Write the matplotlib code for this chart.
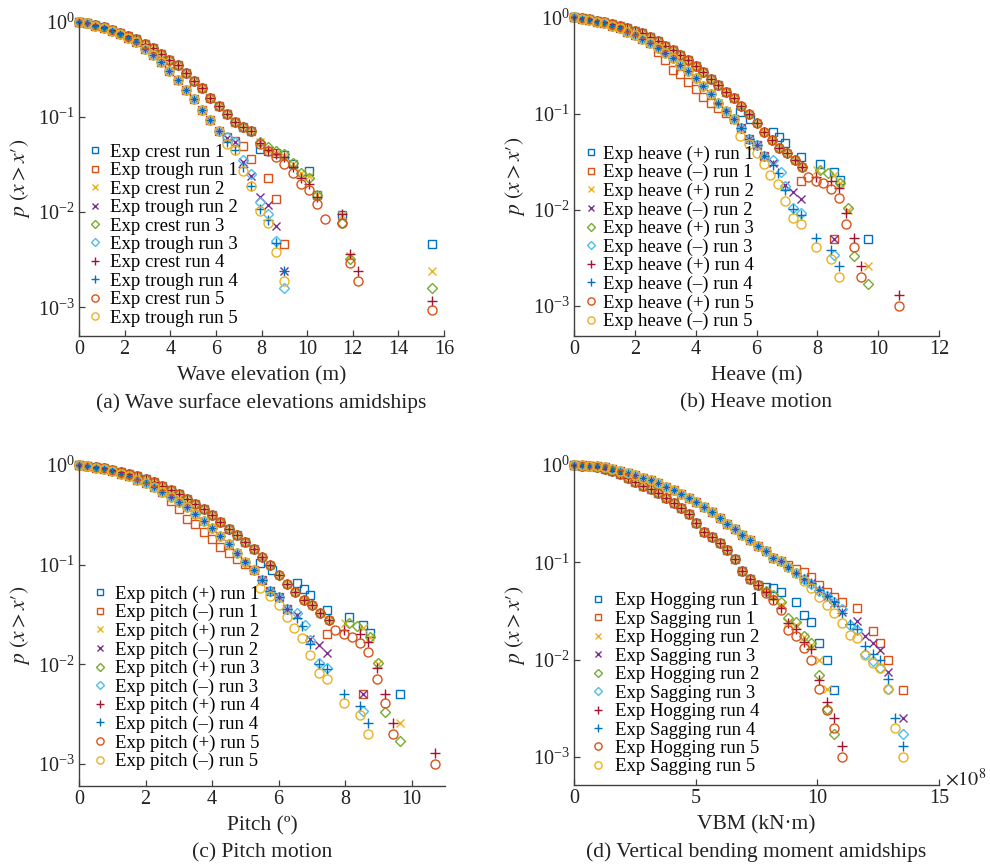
import matplotlib
matplotlib.use('Agg')
import matplotlib.pyplot as plt
from matplotlib.ticker import NullLocator, FixedLocator

plt.rcParams['font.family'] = ['Liberation Serif', 'DejaVu Serif']
plt.rcParams['mathtext.fontset'] = 'stix'

# MATLAB-like colour order and markers of the ten runs
COLORS = ['#0072BD', '#D95319', '#EDB120', '#7E2F8E', '#77AC30',
          '#4DBEEE', '#A2142F', '#0072BD', '#D95319', '#EDB120']
MARKERS = ['s', 's', 'x', 'x', 'D', 'D', '+', '+', 'o', 'o']
MSIZE = {'s': 5.5, 'x': 5.5, 'D': 4.8, '+': 7.5, 'o': 6.5}

# ---------------- (a) wave elevation ----------------
wave_x = [0, 0.36, 0.72, 1.08, 1.44, 1.80, 2.16, 2.52, 2.88, 3.24, 3.60,
          3.96, 4.32, 4.68, 5.04, 5.40, 5.76, 6.12, 6.48, 6.84, 7.20, 7.56]
wave_crest_p = [1, 0.96, 0.92, 0.87, 0.82, 0.77, 0.71, 0.66, 0.59, 0.53, 0.46,
                0.40, 0.35, 0.29, 0.24, 0.20, 0.16, 0.13, 0.107, 0.088, 0.078, 0.071]
wave_trough_p = [1, 0.96, 0.91, 0.85, 0.80, 0.75, 0.67, 0.61, 0.52, 0.45, 0.38,
                 0.305, 0.243, 0.194, 0.153, 0.119, 0.094, 0.071]

crest_tail_x1 = [7.92, 8.28, 8.64, 9.00, 9.36, 10.08, 10.44, 11.52, 15.48]
crest_tail_p1 = [0.046, 0.044, 0.042, 0.040, 0.032, 0.027, 0.015, 0.0094, 0.0046]
crest_tail_x2 = [7.92, 8.28, 8.64, 9.00, 9.36, 9.72, 10.08, 10.44, 11.52, 11.88, 15.48]
crest_tail_p2 = [0.054, 0.045, 0.042, 0.039, 0.032, 0.026, 0.024, 0.015, 0.0094, 0.0035, 0.0024]
crest_tail_x3 = [7.92, 8.28, 8.64, 9.00, 9.36, 9.72, 10.08, 10.44, 11.52, 11.88, 15.48]
crest_tail_p3 = [0.054, 0.048, 0.044, 0.041, 0.033, 0.026, 0.023, 0.015, 0.0077, 0.0032, 0.0016]
crest_tail_x4 = [7.92, 8.28, 8.64, 9.00, 9.36, 9.72, 10.08, 10.44, 11.52, 11.88, 12.24, 15.48]
crest_tail_p4 = [0.053, 0.045, 0.041, 0.038, 0.030, 0.023, 0.020, 0.0144, 0.0096, 0.0036, 0.0024, 0.00118]
crest_tail_x5 = [7.92, 8.28, 8.64, 9.00, 9.36, 9.72, 10.08, 10.44, 10.80, 11.52, 11.88, 12.24, 15.48]
crest_tail_p5 = [0.052, 0.044, 0.038, 0.032, 0.026, 0.020, 0.017, 0.0122, 0.0085, 0.0077, 0.0029, 0.0019, 0.00094]

trough_tail_x1 = [6.48, 6.84, 7.20, 7.56, 8.28, 8.64, 9.00]
trough_tail_p1 = [0.062, 0.056, 0.050, 0.036, 0.023, 0.0137, 0.0046]
trough_tail_x = [6.48, 6.84, 7.20, 7.56, 7.92, 8.28, 8.64, 9.00]
trough_tail_p2 = [0.060, 0.054, 0.034, 0.024, 0.0144, 0.0119, 0.0071, 0.0024]
trough_tail_p3 = [0.062, 0.054, 0.035, 0.025, 0.0127, 0.0096, 0.0050, 0.0016]
trough_tail_p4 = [0.055, 0.045, 0.030, 0.019, 0.0107, 0.0082, 0.0048, 0.0024]
trough_tail_p5 = [0.052, 0.045, 0.027, 0.019, 0.0104, 0.0077, 0.0038, 0.0019]

wave_labels = ['Exp crest run 1', 'Exp trough run 1', 'Exp crest run 2', 'Exp trough run 2',
               'Exp crest run 3', 'Exp trough run 3', 'Exp crest run 4', 'Exp trough run 4',
               'Exp crest run 5', 'Exp trough run 5']

# ---------------- (b) heave (pitch readings in (c) coincide) ----------------
heave_x = [0, 0.25, 0.5, 0.75, 1.0, 1.25, 1.5, 1.75, 2.0, 2.25, 2.5, 2.75, 3.0, 3.25,
           3.5, 3.75, 4.0, 4.25, 4.5, 4.75, 5.0, 5.25, 5.5, 5.75, 6.0, 6.25, 6.5,
           6.75, 7.0, 7.25, 7.5]
heave_pos_p = [1.0, 0.977, 0.953, 0.923, 0.887, 0.853, 0.813, 0.769, 0.727, 0.682,
               0.620, 0.563, 0.508, 0.458, 0.406, 0.361, 0.313, 0.269, 0.229, 0.199,
               0.169, 0.144, 0.120, 0.099, 0.079, 0.064, 0.053, 0.044, 0.039, 0.033, 0.028]
heave_neg_p = [1.0, 0.969, 0.938, 0.902, 0.866, 0.819, 0.769, 0.710, 0.656, 0.596,
               0.537, 0.477, 0.423, 0.375, 0.320, 0.277, 0.233, 0.194, 0.160, 0.130,
               0.107, 0.088, 0.070, 0.055, 0.047, 0.036]

pos_tail_x1 = [5.45, 5.8, 6.55, 6.75, 6.95, 7.45, 8.1, 8.55, 8.75, 9.65]
pos_tail_p1 = [0.105, 0.088, 0.065, 0.057, 0.050, 0.035, 0.030, 0.025, 0.0205, 0.0050]
pos_tail_x2 = [8.0, 8.55, 8.75, 9.0, 9.65]
pos_tail_p2 = [0.026, 0.023, 0.019, 0.0100, 0.0026]
pos_tail_x3 = [8.1, 8.35, 8.75, 9.0, 9.2, 9.65]
pos_tail_p3 = [0.026, 0.024, 0.019, 0.0104, 0.0033, 0.0017]
pos_tail_x4 = [7.95, 8.45, 8.7, 8.95, 9.2, 9.45, 10.7]
pos_tail_p4 = [0.022, 0.020, 0.0168, 0.0092, 0.0051, 0.0026, 0.0013]
pos_tail_x5 = [7.7, 7.95, 8.2, 8.45, 8.7, 8.95, 9.2, 9.45, 10.7]
pos_tail_p5 = [0.022, 0.020, 0.019, 0.0164, 0.0132, 0.0072, 0.0041, 0.0020, 0.0010]

neg_tail_x1 = [2.75, 3.0, 3.25, 3.5, 3.75, 4.0, 4.25, 4.5, 4.75, 5.0, 5.25, 5.5,
               5.75, 6.0, 6.25, 7.45, 8.55]
neg_tail_p1 = [0.44, 0.361, 0.284, 0.258, 0.215, 0.179, 0.150, 0.130, 0.114, 0.101,
               0.088, 0.070, 0.055, 0.047, 0.036, 0.020, 0.0050]
neg_tail_x2 = [6.55, 6.95, 7.2, 7.45, 8.55]
neg_tail_p2 = [0.031, 0.018, 0.0155, 0.0129, 0.0050]
neg_tail_x3 = [6.55, 6.8, 6.95, 7.2, 7.45, 8.55]
neg_tail_p3 = [0.033, 0.025, 0.0175, 0.0104, 0.0092, 0.0034]
neg_tail_x4 = [6.55, 6.7, 6.95, 7.2, 7.45, 7.95, 8.45, 8.7]
neg_tail_p4 = [0.029, 0.024, 0.0161, 0.0102, 0.0089, 0.0051, 0.0038, 0.0026]
neg_tail_x5 = [5.45, 5.75, 6.0, 6.25, 6.45, 6.7, 6.95, 7.2, 7.45, 7.95, 8.45, 8.7]
neg_tail_p5 = [0.058, 0.048, 0.039, 0.030, 0.023, 0.0185, 0.0123, 0.0082, 0.0072,
               0.0041, 0.0031, 0.0020]

heave_labels = ['Exp heave (+) run 1', 'Exp heave (–) run 1', 'Exp heave (+) run 2',
                'Exp heave (–) run 2', 'Exp heave (+) run 3', 'Exp heave (–) run 3',
                'Exp heave (+) run 4', 'Exp heave (–) run 4', 'Exp heave (+) run 5',
                'Exp heave (–) run 5']
pitch_labels = [s.replace('heave', 'pitch') for s in heave_labels]

# ---------------- (d) VBM, units of 1e8 kN.m ----------------
vbm_x = [0, 0.31, 0.63, 0.94, 1.26, 1.57, 1.89, 2.20, 2.52, 2.83, 3.15, 3.46, 3.78,
         4.09, 4.40, 4.72, 5.03, 5.35, 5.66, 5.98, 6.29, 6.61, 6.92, 7.24, 7.55, 7.87,
         8.18, 8.50, 8.81, 9.12]
sag_p = [1.0, 0.995, 0.984, 0.969, 0.946, 0.910, 0.875, 0.834, 0.789, 0.741, 0.695,
         0.647, 0.598, 0.549, 0.503, 0.458, 0.413, 0.370, 0.326, 0.287, 0.249, 0.218,
         0.191, 0.168, 0.148, 0.130, 0.111, 0.103, 0.090, 0.077]
hog_p = [1.0, 0.984, 0.969, 0.946, 0.917, 0.867, 0.802, 0.741, 0.674, 0.613, 0.562,
         0.511, 0.454, 0.404, 0.358, 0.311, 0.255, 0.206, 0.180, 0.156, 0.134, 0.107,
         0.082, 0.068, 0.058]

sag_tail_x1 = [8.81, 9.12, 9.44, 9.75, 10.07, 10.38, 10.70, 11.01, 11.64, 12.27, 12.59, 12.90, 13.52]
sag_tail_p1 = [0.094, 0.086, 0.080, 0.071, 0.059, 0.050, 0.044, 0.039, 0.034, 0.0196, 0.0147, 0.0099, 0.0049]
sag_tail_x2 = [9.44, 9.75, 10.07, 10.38, 10.70, 11.01, 11.64, 11.96, 12.27, 12.59, 12.90, 13.52]
sag_tail_p2 = [0.068, 0.061, 0.052, 0.045, 0.038, 0.031, 0.025, 0.0176, 0.0149, 0.0125, 0.0075, 0.0025]
sag_tail_x3 = [9.44, 9.75, 10.07, 10.38, 10.70, 11.01, 11.33, 11.64, 11.96, 12.27, 12.59, 12.90, 13.52]
sag_tail_p3 = [0.068, 0.060, 0.051, 0.045, 0.039, 0.033, 0.0226, 0.020, 0.0113, 0.0096, 0.0082, 0.0050, 0.0017]
sag_tail_x4 = [9.44, 9.75, 10.07, 10.38, 10.70, 11.01, 11.33, 11.64, 11.96, 12.27, 12.59, 12.90, 13.20, 13.52]
sag_tail_p4 = [0.068, 0.061, 0.052, 0.045, 0.039, 0.030, 0.023, 0.0206, 0.0139, 0.0113, 0.0099, 0.0063, 0.0025, 0.0013]
sag_tail_p5 = [0.064, 0.054, 0.044, 0.036, 0.030, 0.024, 0.018, 0.0165, 0.0111, 0.0093, 0.0081, 0.0050, 0.0020, 0.0010]

hog_tail_x1 = [7.87, 8.18, 8.50, 9.12, 9.44, 9.75, 10.07, 10.38, 10.70]
hog_tail_p1 = [0.056, 0.054, 0.050, 0.039, 0.029, 0.0245, 0.0147, 0.0098, 0.0049]
hog_tail_x = [7.87, 8.18, 8.50, 8.81, 9.12, 9.44, 9.75, 10.07, 10.38, 10.70, 11.01]
hog_tail_p2 = [0.049, 0.044, 0.036, 0.0245, 0.0226, 0.0171, 0.0141, 0.0100, 0.0050]
hog_tail_p3 = [0.051, 0.046, 0.039, 0.027, 0.0245, 0.0174, 0.0149, 0.0069, 0.0031, 0.0017]
hog_tail_p4 = [0.050, 0.0415, 0.034, 0.024, 0.0206, 0.0152, 0.0128, 0.0062, 0.0037, 0.0025, 0.0013]
hog_tail_p5 = [0.048, 0.041, 0.032, 0.020, 0.0176, 0.0130, 0.0100, 0.0050, 0.0030, 0.0020, 0.0010]

vbm_labels = ['Exp Hogging run 1', 'Exp Sagging run 1', 'Exp Hogging run 2', 'Exp Sagging run 3',
              'Exp Hogging run 2', 'Exp Sagging run 3', 'Exp Hogging run 4', 'Exp Sagging run 4',
              'Exp Hogging run 5', 'Exp Sagging run 5']


def join(hx, hp, n, tx, tp):
    return list(hx[:n]) + list(tx), list(hp[:n]) + list(tp[:len(tx)])


wave_series = [
    join(wave_x, wave_crest_p, 22, crest_tail_x1, crest_tail_p1),
    join(wave_x, wave_trough_p, 18, trough_tail_x1, trough_tail_p1),
    join(wave_x, wave_crest_p, 22, crest_tail_x2, crest_tail_p2),
    join(wave_x, wave_trough_p, 18, trough_tail_x, trough_tail_p2),
    join(wave_x, wave_crest_p, 22, crest_tail_x3, crest_tail_p3),
    join(wave_x, wave_trough_p, 18, trough_tail_x, trough_tail_p3),
    join(wave_x, wave_crest_p, 22, crest_tail_x4, crest_tail_p4),
    join(wave_x, wave_trough_p, 18, trough_tail_x, trough_tail_p4),
    join(wave_x, wave_crest_p, 22, crest_tail_x5, crest_tail_p5),
    join(wave_x, wave_trough_p, 18, trough_tail_x, trough_tail_p5),
]
heave_series = [
    join(heave_x, heave_pos_p, 22, pos_tail_x1, pos_tail_p1),
    join(heave_x, heave_neg_p, 11, neg_tail_x1, neg_tail_p1),
    join(heave_x, heave_pos_p, 31, pos_tail_x2, pos_tail_p2),
    join(heave_x, heave_neg_p, 26, neg_tail_x2, neg_tail_p2),
    join(heave_x, heave_pos_p, 31, pos_tail_x3, pos_tail_p3),
    join(heave_x, heave_neg_p, 26, neg_tail_x3, neg_tail_p3),
    join(heave_x, heave_pos_p, 31, pos_tail_x4, pos_tail_p4),
    join(heave_x, heave_neg_p, 26, neg_tail_x4, neg_tail_p4),
    join(heave_x, heave_pos_p, 31, pos_tail_x5, pos_tail_p5),
    join(heave_x, heave_neg_p, 22, neg_tail_x5, neg_tail_p5),
]
vbm_series = [
    join(vbm_x, hog_p, 25, hog_tail_x1, hog_tail_p1),
    join(vbm_x, sag_p, 28, sag_tail_x1, sag_tail_p1),
    join(vbm_x, hog_p, 25, hog_tail_x[:len(hog_tail_p2)], hog_tail_p2),
    join(vbm_x, sag_p, 30, sag_tail_x2, sag_tail_p2),
    join(vbm_x, hog_p, 25, hog_tail_x[:len(hog_tail_p3)], hog_tail_p3),
    join(vbm_x, sag_p, 30, sag_tail_x3, sag_tail_p3),
    join(vbm_x, hog_p, 25, hog_tail_x, hog_tail_p4),
    join(vbm_x, sag_p, 30, sag_tail_x4, sag_tail_p4),
    join(vbm_x, hog_p, 25, hog_tail_x, hog_tail_p5),
    join(vbm_x, sag_p, 30, sag_tail_x4, sag_tail_p5),
]

W, H = 990, 865
fig = plt.figure(figsize=(W / 100, H / 100), dpi=100)


def make_axes(left, right, top, bottom):
    return fig.add_axes([left / W, 1 - bottom / H, (right - left) / W, (bottom - top) / H])


panels = [
    # series, labels, box(px), xlim, xticks, ylim bottom exponent, xlabel, caption, legend anchor, textpad
    (wave_series, wave_labels, (79, 444, 21.7, 336), (0, 16), list(range(0, 17, 2)), -3.3,
     'Wave elevation (m)', '(a) Wave surface elevations amidships', (0.022, 0.612), 0.42),
    (heave_series, heave_labels, (574, 939, 17.3, 336), (0, 12), list(range(0, 13, 2)), -3.31,
     'Heave (m)', '(b) Heave motion', (0.027, 0.598), 0.2),
    (heave_series, pitch_labels, (79, 445, 465, 786), (0, 11), list(range(0, 11, 2)), -3.22,
     'Pitch (º)', '(c) Pitch motion', (0.036, 0.625), 0.42),
    (vbm_series, vbm_labels, (574, 939, 465, 785), (0, 15), [0, 5, 10, 15], -3.29,
     'VBM (kN·m)', '(d) Vertical bending moment amidships', (0.045, 0.602), 0.5),
]

for series, labels, box, xlim, xticks, ybot, xlabel, caption, anchor, tpad in panels:
    ax = make_axes(*box)
    for i, (x, p) in enumerate(series):
        m = MARKERS[i]
        ax.plot(x, p, linestyle='none', marker=m, markersize=MSIZE[m],
                markerfacecolor='none', markeredgecolor=COLORS[i], markeredgewidth=1.0,
                label=labels[i], clip_on=False)
    ax.set_yscale('log')
    ax.set_xlim(*xlim)
    ax.set_ylim(10 ** ybot, 1.0)
    ax.xaxis.set_major_locator(FixedLocator(xticks))
    ax.yaxis.set_major_locator(FixedLocator([1e-3, 1e-2, 1e-1, 1]))
    ax.yaxis.set_minor_locator(NullLocator())
    for s in ['top', 'right']:
        ax.spines[s].set_visible(False)
    for s in ['left', 'bottom']:
        ax.spines[s].set_color('#404040')
        ax.spines[s].set_linewidth(1.0)
    ax.tick_params(direction='in', length=4, width=0.9, colors='#404040',
                   labelcolor='#222222', labelsize=14.5, pad=3)
    ax.set_xlabel(xlabel, fontsize=15.5, color='#222222', labelpad=5)
    ax.set_ylabel('$p\\ (x>x′)$', fontsize=15.5, color='#222222', labelpad=4)
    ax.annotate(caption, xy=(0.5, 0), xycoords='axes fraction', xytext=(0, -48),
                textcoords='offset points', ha='center', va='center', fontsize=15.5,
                color='#222222')
    ax.legend(loc='upper left', bbox_to_anchor=anchor, frameon=False, fontsize=13.5,
              handlelength=0.8, handletextpad=tpad, labelspacing=0.07, borderpad=0,
              borderaxespad=0, markerscale=0.8)
    if xlabel.startswith('VBM'):
        ax.annotate(r'$\times10^{8}$', xy=(1, 0), xycoords='axes fraction', xytext=(4, 4),
                    textcoords='offset points', ha='left', va='center', fontsize=14.5,
                    color='#222222')

fig.savefig('out.png', dpi=100)
